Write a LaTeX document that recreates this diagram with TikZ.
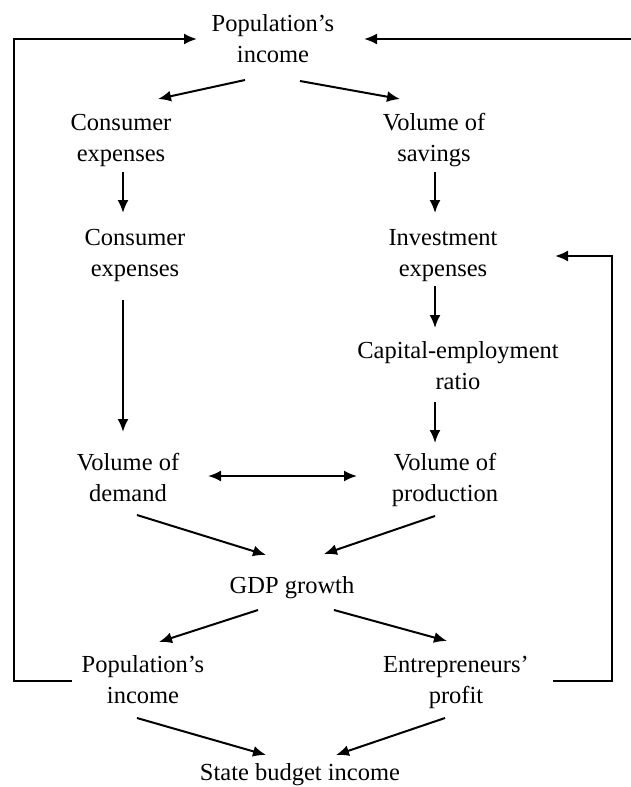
\documentclass[tikz,border=0pt]{standalone}
\usepackage{fontspec}
\setmainfont{Liberation Serif}
\usetikzlibrary{arrows.meta}

\begin{document}
\begin{tikzpicture}[x=1pt, y=-1pt, >={Latex[length=13pt,width=11pt]}]
        \tikzstyle{factor} = [align=center, anchor=base, inner sep=0pt, font=\fontsize{24.5pt}{31pt}\selectfont]
        \tikzstyle{line} = [draw, ->, line width=2pt]
        \useasboundingbox (0,0) rectangle (631,787);

        % Income split (nodes sit on the baseline of their last line)
        \node [factor] (inc) at (273,62) {Population's\\income};
        \node [factor] (cons) at (121,161) {Consumer\\expenses};
        \node [factor] (sav) at (434,161) {Volume of\\savings};

        % Spending branches
        \node [factor] (spend) at (135,276) {Consumer\\expenses};
        \node [factor] (inv) at (443,276) {Investment\\expenses};
        \node [factor] (cap) at (458,389) {Capital-employment\\ratio};

        % Market
        \node [factor] (dem) at (128,501) {Volume of\\demand};
        \node [factor] (prod) at (445,501) {Volume of\\production};
        \node [factor] (gdp) at (292,593) {GDP growth};

        % Distribution
        \node [factor] (pinc) at (143,703) {Population's\\income};
        \node [factor] (ent) at (456,703) {Entrepreneurs'\\profit};
        \node [factor] (budget) at (300,780) {State budget income};
        \coordinate (edge) at (631,39);

        % Paths
        \path [line] ([shift={(-28,18)}]inc.base) -- ([shift={(37,-62)}]cons.base);
        \path [line] ([shift={(27,19)}]inc.base) -- ([shift={(-34,-62)}]sav.base);
        \path [line] ([shift={(2,11)}]cons.base) -- ([shift={(-12,-63)}]spend.base);
        \path [line] ([shift={(1,11)}]sav.base) -- ([shift={(-8,-63)}]inv.base);
        \path [line] ([shift={(-8,10)}]inv.base) -- ([shift={(-23,-61)}]cap.base);
        \path [line] ([shift={(-12,24)}]spend.base) -- ([shift={(-5,-69)}]dem.base);
        \path [line] ([shift={(-23,13)}]cap.base) -- ([shift={(-10,-58)}]prod.base);
        \path [line, <->] ([shift={(80,-25)}]dem.base) -- ([shift={(-88,-25)}]prod.base);
        \path [line] ([shift={(9,14)}]dem.base) -- ([shift={(-26,-38)}]gdp.base);
        \path [line] ([shift={(-10,15)}]prod.base) -- ([shift={(32,-39)}]gdp.base);
        \path [line] ([shift={(-34,17)}]gdp.base) -- ([shift={(16,-61)}]pinc.base);
        \path [line] ([shift={(42,17)}]gdp.base) -- ([shift={(-9,-62)}]ent.base);
        \path [line] ([shift={(-6,15)}]pinc.base) -- ([shift={(-34,-25)}]budget.base);
        \path [line] ([shift={(-11,15)}]ent.base) -- ([shift={(36,-25)}]budget.base);

        % Feedback loops
        \path [line] ([shift={(-71,-22)}]pinc.base) -| (14,39) -- ([shift={(-76,-23)}]inc.base);
        \path [line] ([shift={(97,-22)}]ent.base) -| (612,256) -- ([shift={(112,-20)}]inv.base);
        \path [line] (edge) -- ([shift={(91,-23)}]inc.base);
    \end{tikzpicture}
\end{document}
